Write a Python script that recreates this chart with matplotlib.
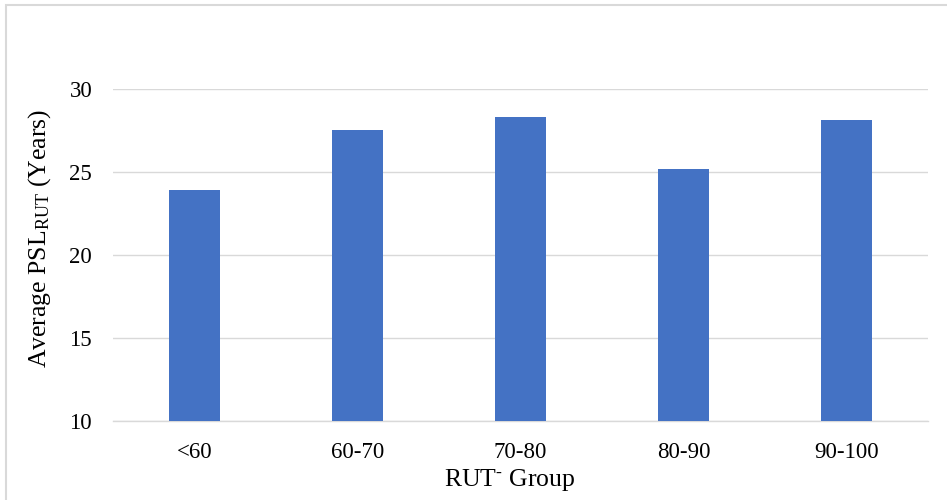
import matplotlib
matplotlib.use("Agg")
from matplotlib import pyplot as plt
from matplotlib.patches import Rectangle
import numpy as np

groups = ["<60", "60-70", "70-80", "80-90", "90-100"]
avg_psl = [23.92, 27.53, 28.31, 25.18, 28.13]
y_ticks = [10, 15, 20, 25, 30]

plt.rcParams['font.family'] = ['Liberation Serif', 'DejaVu Serif']
plt.rcParams['mathtext.fontset'] = 'custom'
plt.rcParams['mathtext.rm'] = 'Liberation Serif'
plt.rcParams['mathtext.it'] = 'Liberation Serif:italic'
plt.rcParams['mathtext.bf'] = 'Liberation Serif:bold'

fig = plt.figure(figsize=(9.47, 5.0), dpi=100)
ax = fig.add_axes([113 / 947, 1 - 421 / 500, 815 / 947, 332 / 500])

x = np.arange(len(groups))
ax.bar(x, avg_psl, width=0.315, color='#4472C4', zorder=3)

ax.set_ylim(10, 30)
ax.set_xlim(-0.5, len(groups) - 0.5)
ax.set_yticks(y_ticks)
ax.set_xticks(x)
ax.set_xticklabels(groups)
ax.tick_params(axis='both', length=0, labelsize=16.5, pad=15)
ax.grid(axis='y', color='#d9d9d9', linewidth=1.0, zorder=0)

for side in ['top', 'right', 'left']:
    ax.spines[side].set_visible(False)
ax.spines['bottom'].set_color('#d9d9d9')
ax.spines['bottom'].set_linewidth(1.0)

ax.set_ylabel(r'Average PSL$_{\mathrm{RUT}}$ (Years)', fontsize=18.5)
ax.set_xlabel(r'RUT$^{\text{-}}$ Group', fontsize=18.5)
ax.yaxis.set_label_coords(-0.074, 0.55)
ax.xaxis.set_label_coords(0.487, -0.138)

# light outer frame of the chart area
fig.patches.append(Rectangle((6 / 947, -0.1), 1.2, 1 - 4.5 / 500 + 0.1,
                             transform=fig.transFigure, fill=False,
                             edgecolor='#d9d9d9', linewidth=1.5))

fig.savefig('out.png', dpi=100)
